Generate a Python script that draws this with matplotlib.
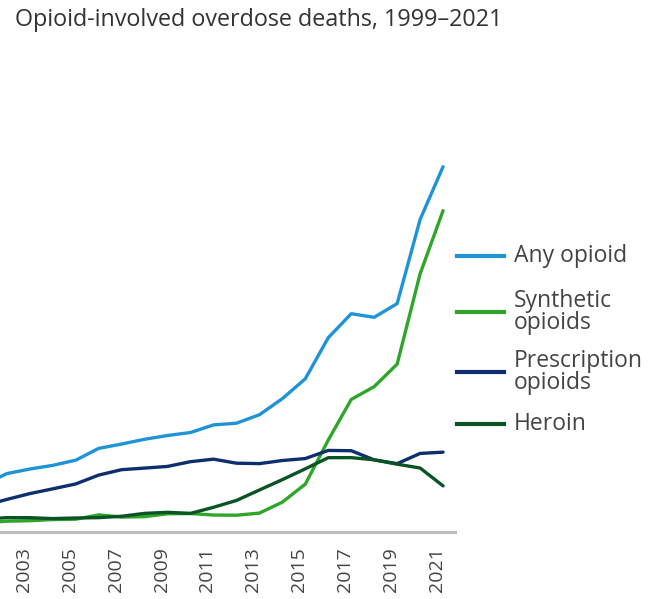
import matplotlib
matplotlib.use("Agg")
from matplotlib import pyplot as plt
from matplotlib.lines import Line2D
import matplotlib.transforms as mtransforms

years = list(range(1999, 2022))
any_opioid = [8048, 8407, 9496, 11920, 12940, 13756, 14918, 17545, 18516, 19582, 20422, 21089,
              22784, 23166, 25052, 28647, 33091, 42249, 47600, 46802, 49860, 68630, 80411]
synthetic = [730, 782, 957, 1295, 1400, 1664, 1742, 2707, 2213, 2306, 2946, 3007,
             2666, 2628, 3105, 5544, 9580, 19413, 28466, 31335, 36359, 56516, 70601]
prescription = [3442, 3785, 4770, 6155, 7456, 8517, 9612, 11589, 12796, 13149, 13523, 14583,
                15140, 14240, 14145, 14838, 15281, 17087, 17029, 14975, 14139, 16416, 16706]
heroin = [1960, 1842, 1779, 2089, 2080, 1878, 2009, 2088, 2399, 3041, 3278, 3036,
          4397, 5925, 8257, 10574, 12989, 15469, 15482, 14996, 14019, 13165, 9173]
tick_years = list(range(2003, 2022, 2))

series = [
    ("Any opioid", any_opioid, "#1f93d8"),
    ("Synthetic\nopioids", synthetic, "#2fa52a"),
    ("Prescription\nopioids", prescription, "#0d2f6e"),
    ("Heroin", heroin, "#0a5323"),
]

plt.rcParams['font.family'] = ['Open Sans', 'DejaVu Sans']

fig = plt.figure(figsize=(6.53, 5.99), dpi=100)
W, H = 653, 599
# axes from x=0..455 px, y=100..532 px (top-down)
ax = fig.add_axes([0, (H - 532) / H, 455 / W, 432 / H])

for name, vals, col in series:
    ax.plot(years, vals, color=col, lw=2.4, solid_capstyle="round", solid_joinstyle="round")

ax.set_xlim(2001.7, 2021.52)
ax.set_ylim(-1116, 95300)
ax.set_yticks([])
ax.set_xticks(tick_years)
ax.set_xticklabels([str(y) for y in tick_years], rotation=90, fontsize=14, color="#444444")
ax.tick_params(axis="x", length=0, pad=11)
offset = mtransforms.ScaledTranslation(-6 / 100, 0, fig.dpi_scale_trans)
for lab in ax.get_xticklabels():
    lab.set_transform(lab.get_transform() + offset)

for s in ["top", "right", "left"]:
    ax.spines[s].set_visible(False)
ax.spines["bottom"].set_color("#bdbdbd")
ax.spines["bottom"].set_linewidth(2.2)

fig.text(15 / W, 1 - 20 / H, "Opioid-involved overdose deaths, 1999\u20132021",
         fontsize=16.8, color="#333333", va="center", ha="left")

# legend
leg_y = [256, 312, 372, 424]
for (name, vals, col), y in zip(series, leg_y):
    fig.add_artist(Line2D([457 / W, 504 / W], [1 - y / H, 1 - y / H], color=col, lw=3))
    fig.text(514 / W, 1 - y / H, name, fontsize=16.5, color="#444444", va="center", ha="left",
             linespacing=0.85)

fig.savefig("out.png", dpi=100)
